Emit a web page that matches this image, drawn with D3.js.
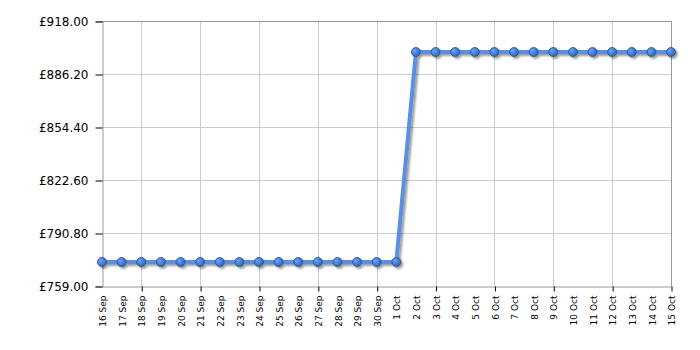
<!DOCTYPE html>
<html lang="en">
	<head>
		<meta charset="utf-8">
		<title>Price history</title>
		<script type="text/javascript" src="https://cdn.jsdelivr.net/npm/d3@7"></script>
		<style type="text/css">
			html, body{
				margin: 0;
				padding: 0;
				background-color: white;
				overflow: hidden;
			}
			.y_label{
				font-family: 'DejaVu Sans', Verdana, sans-serif;
				font-size: 12px;
				fill: #000;
			}
			.x_label{
				font-family: 'DejaVu Sans', Verdana, sans-serif;
				font-size: 9px;
				fill: #000;
			}
		</style>
	</head>
	<body>
		<div id="chart"></div>
		<script type="text/javascript">

			var dates = ["16 Sep","17 Sep","18 Sep","19 Sep","20 Sep","21 Sep","22 Sep","23 Sep",
				"24 Sep","25 Sep","26 Sep","27 Sep","28 Sep","29 Sep","30 Sep","1 Oct",
				"2 Oct","3 Oct","4 Oct","5 Oct","6 Oct","7 Oct","8 Oct","9 Oct",
				"10 Oct","11 Oct","12 Oct","13 Oct","14 Oct","15 Oct"];

			var prices = [773.4,773.4,773.4,773.4,773.4,773.4,773.4,773.4,
				773.4,773.4,773.4,773.4,773.4,773.4,773.4,773.4,
				899.4,899.4,899.4,899.4,899.4,899.4,899.4,899.4,
				899.4,899.4,899.4,899.4,899.4,899.4];

			var yTicks = [759.00, 790.80, 822.60, 854.40, 886.20, 918.00];

			// dates that get a grid line and tick
			var gridDates = ["18 Sep","21 Sep","24 Sep","27 Sep","30 Sep","3 Oct",
				"6 Oct","9 Oct","12 Oct","15 Oct"];

			var w = 700, h = 350;
			var plotLeft = 102, plotRight = 671, plotTop = 21, plotBottom = 286;

			var svg = d3.select("#chart")
						.append("svg")
						.attr("width", w)
						.attr("height", h);

			var defs = svg.append("defs");
			var grad = defs.append("radialGradient")
						.attr("id", "dotFill")
						.attr("cx", "35%").attr("cy", "35%").attr("r", "65%");
			grad.append("stop").attr("offset", "0%").attr("stop-color", "#6fa2ea");
			grad.append("stop").attr("offset", "100%").attr("stop-color", "#2f66c0");

			var shadow = defs.append("filter").attr("id", "shadow")
						.attr("x", "-10%").attr("y", "-10%").attr("width", "130%").attr("height", "130%");
			shadow.append("feGaussianBlur").attr("in", "SourceAlpha").attr("stdDeviation", 1.2).attr("result", "blur");
			shadow.append("feOffset").attr("in", "blur").attr("dx", 1.5).attr("dy", 2).attr("result", "off");
			shadow.append("feComponentTransfer").attr("in", "off").attr("result", "soft")
				.append("feFuncA").attr("type", "linear").attr("slope", 0.4);
			var merge = shadow.append("feMerge");
			merge.append("feMergeNode").attr("in", "soft");
			merge.append("feMergeNode").attr("in", "SourceGraphic");

			var xScale = d3.scalePoint()
						.domain(dates)
						.range([plotLeft, plotRight]);

			var yScale = d3.scaleLinear()
						.domain([759, 918])
						.range([plotBottom, plotTop]);

			// grid
			svg.append("g").selectAll("line.hgrid")
				.data(yTicks.slice(1, -1))
				.enter()
				.append("line")
				.attr("x1", plotLeft).attr("x2", plotRight)
				.attr("y1", function(d){ return Math.round(yScale(d)) + 0.5; })
				.attr("y2", function(d){ return Math.round(yScale(d)) + 0.5; })
				.attr("stroke", "#cccccc");

			svg.append("g").selectAll("line.vgrid")
				.data(gridDates.slice(0, -1))
				.enter()
				.append("line")
				.attr("y1", plotTop).attr("y2", plotBottom)
				.attr("x1", function(d){ return Math.round(xScale(d)) + 0.5; })
				.attr("x2", function(d){ return Math.round(xScale(d)) + 0.5; })
				.attr("stroke", "#cccccc");

			// frame top and right
			svg.append("line")
				.attr("x1", plotLeft).attr("x2", plotRight + 0.5)
				.attr("y1", plotTop + 0.5).attr("y2", plotTop + 0.5)
				.attr("stroke", "#999999");
			svg.append("line")
				.attr("x1", plotRight + 0.5).attr("x2", plotRight + 0.5)
				.attr("y1", plotTop).attr("y2", plotBottom)
				.attr("stroke", "#999999");

			// y axis
			var yAxis = d3.axisLeft(yScale)
						.tickValues(yTicks)
						.tickSize(7)
						.tickPadding(7)
						.tickFormat(function(d){ return "£" + d3.format(".2f")(d); });

			var gy = svg.append("g")
				.attr("transform", "translate(" + (plotLeft + 0.5) + ",0.5)")
				.call(yAxis);
			gy.select(".domain").attr("stroke", "#999999");
			gy.selectAll(".tick line").attr("stroke", "#000");
			gy.selectAll(".tick text").attr("class", "y_label");
			gy.attr("font-family", null).attr("font-size", null);

			// x axis
			var xAxis = d3.axisBottom(xScale)
						.tickSize(0)
						.tickPadding(0);

			var gx = svg.append("g")
				.attr("transform", "translate(0.5," + (plotBottom + 0.5) + ")")
				.call(xAxis);
			gx.attr("font-family", null).attr("font-size", null);
			gx.select(".domain").attr("stroke", "#999999");
			gx.selectAll(".tick line").remove();
			gx.selectAll(".tick text")
				.attr("class", "x_label")
				.attr("transform", "rotate(-90)")
				.attr("text-anchor", "end")
				.attr("x", -9)
				.attr("y", 0)
				.attr("dy", "0.35em");

			gx.selectAll(".tick")
				.filter(function(d){ return gridDates.indexOf(d) >= 0; })
				.append("line")
				.attr("y1", 0).attr("y2", 5)
				.attr("stroke", "#000");

			// line and points
			var line = d3.line()
						.x(function(d, i){ return xScale(dates[i]); })
						.y(function(d){ return yScale(d); });

			var series = svg.append("g").attr("filter", "url(#shadow)");

			series.append("path")
				.datum(prices)
				.attr("d", line)
				.attr("fill", "none")
				.attr("stroke", "#5a8fe2")
				.attr("stroke-width", 4)
				.attr("stroke-linejoin", "round");

			series.selectAll("circle")
				.data(prices)
				.enter()
				.append("circle")
				.attr("cx", function(d, i){ return xScale(dates[i]); })
				.attr("cy", function(d){ return yScale(d); })
				.attr("r", 4.5)
				.attr("fill", "url(#dotFill)")
				.attr("stroke", "#23508f")
				.attr("stroke-width", 0.8);

		</script>
	</body>
</html>
